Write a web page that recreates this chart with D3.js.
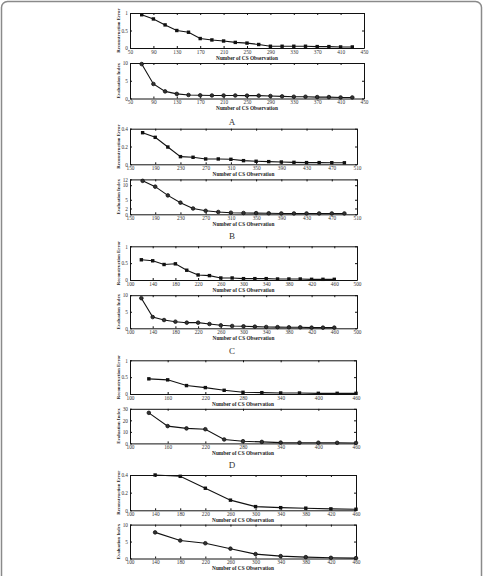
<!DOCTYPE html>
<html lang="en">
<head>
<meta charset="utf-8">
<title>CS Observation</title>
<script src="https://d3js.org/d3.v7.min.js"></script>
<style>
  body { margin: 0; background: #fff; }
  svg text { font-family: "Liberation Serif", "DejaVu Serif", serif; }
</style>
</head>
<body>
<svg width="484" height="576"></svg>
<script>
// ---- data ----
var xA = [70, 90, 110, 130, 150, 170, 190, 210, 230, 250, 270, 290, 310, 330, 350, 370, 390, 410, 430];
var errA = [0.95, 0.83, 0.66, 0.50, 0.45, 0.27, 0.23, 0.20, 0.16, 0.14, 0.10, 0.05, 0.05, 0.05, 0.05, 0.04, 0.04, 0.03, 0.03];
var idxA = [9.7, 4.1, 2.0, 1.3, 1.0, 0.9, 0.85, 0.85, 0.85, 0.8, 0.8, 0.7, 0.6, 0.5, 0.5, 0.4, 0.4, 0.3, 0.3];
var xTicksA = [50, 90, 130, 170, 210, 250, 290, 330, 370, 410, 450];
var errTicksA = [0, 0.5, 1];
var idxTicksA = [0, 5, 10];

var xB = [170, 190, 210, 230, 250, 270, 290, 310, 330, 350, 370, 390, 410, 430, 450, 470, 490];
var errB = [0.355, 0.303, 0.194, 0.086, 0.079, 0.06, 0.06, 0.056, 0.041, 0.034, 0.03, 0.026, 0.022, 0.019, 0.019, 0.018, 0.017];
var idxB = [11.5, 9.5, 6.5, 4.0, 2.0, 1.2, 0.8, 0.55, 0.45, 0.4, 0.35, 0.3, 0.3, 0.3, 0.3, 0.3, 0.3];
var xTicksB = [150, 190, 230, 270, 310, 350, 390, 430, 470, 510];
var errTicksB = [0, 0.2, 0.4];
var idxTicksB = [0, 2, 5, 10, 12];

var xC = [120, 140, 160, 180, 200, 220, 240, 260, 280, 300, 320, 340, 360, 380, 400, 420, 440, 460];
var errC = [0.60, 0.57, 0.46, 0.48, 0.29, 0.15, 0.13, 0.06, 0.06, 0.04, 0.04, 0.04, 0.03, 0.03, 0.03, 0.02, 0.02, 0.02];
var idxC = [9.1, 3.4, 2.5, 2.0, 1.7, 1.7, 1.3, 0.9, 0.7, 0.6, 0.5, 0.4, 0.35, 0.3, 0.3, 0.2, 0.2, 0.2];
var xTicksC = [100, 140, 180, 220, 260, 300, 340, 380, 420, 460, 500];
var errTicksC = [0, 0.5, 1];
var idxTicksC = [0, 5, 10];

var xD = [130, 160, 190, 220, 250, 280, 310, 340, 370, 400, 430, 460];
var errD = [0.45, 0.42, 0.25, 0.19, 0.11, 0.05, 0.04, 0.03, 0.03, 0.02, 0.02, 0.02];
var idxD = [26.5, 15, 13, 12.3, 3.4, 1.9, 1.3, 0.7, 0.6, 0.6, 0.5, 0.4];
var xTicksD = [100, 160, 220, 280, 340, 400, 460];
var errTicksD = [0, 0.5, 1];
var idxTicksD = [0, 10, 20, 30];

var xE = [140, 180, 220, 260, 300, 340, 380, 420, 460];
var errE = [0.40, 0.385, 0.25, 0.115, 0.042, 0.03, 0.024, 0.016, 0.012];
var idxE = [7.7, 5.3, 4.5, 2.9, 1.3, 0.7, 0.4, 0.2, 0.1];
var xTicksE = [100, 140, 180, 220, 260, 300, 340, 380, 420, 460];
var errTicksE = [0, 0.2, 0.4];
var idxTicksE = [0, 5, 10];

var panelLabels = ["A", "B", "C", "D", ""];

// ---- layout ----
var svg = d3.select("svg");

// outer frame of the figure
svg.append("rect")
    .attr("x", 1.5).attr("y", 1.5)
    .attr("width", 480).attr("height", 600)
    .attr("rx", 6)
    .attr("fill", "none")
    .attr("stroke", "#8a8a8a")
    .attr("stroke-width", 1.5);

var panels = [
    {xs: xA, err: errA, idx: idxA, xt: xTicksA, et: errTicksA, it: idxTicksA, right: 364, top: [13, 48], bot: [63, 98.5], lab: 125},
    {xs: xB, err: errB, idx: idxB, xt: xTicksB, et: errTicksB, it: idxTicksB, right: 357, top: [128.7, 164.3], bot: [179.4, 214.3], lab: 239},
    {xs: xC, err: errC, idx: idxC, xt: xTicksC, et: errTicksC, it: idxTicksC, right: 357, top: [246.3, 280], bot: [295.2, 328.3], lab: 354},
    {xs: xD, err: errD, idx: idxD, xt: xTicksD, et: errTicksD, it: idxTicksD, right: 356, top: [360.3, 394], bot: [408.8, 443.4], lab: 468},
    {xs: xE, err: errE, idx: idxE, xt: xTicksE, et: errTicksE, it: idxTicksE, right: 356, top: [475, 510.3], bot: [524.6, 558.5], lab: 590}
];
var left = 130;

function drawPlot(xs, ys, xTicks, yTicks, x0, x1, y0, y1, ylabel, marker) {
    var x = d3.scaleLinear()
        .domain([xTicks[0], xTicks[xTicks.length - 1]])
        .range([x0, x1]);
    var y = d3.scaleLinear()
        .domain([yTicks[0], yTicks[yTicks.length - 1]])
        .range([y1, y0]);
    var g = svg.append("g");

    // ticks on all four sides, pointing inward (matlab style)
    g.append("g")
        .attr("transform", "translate(0," + y1 + ")")
        .call(d3.axisBottom(x).tickValues(xTicks).tickSize(-2).tickSizeOuter(0).tickPadding(2).tickFormat(function(d){ return d; }));
    g.append("g")
        .attr("transform", "translate(0," + y0 + ")")
        .call(d3.axisTop(x).tickValues(xTicks).tickSize(-2).tickSizeOuter(0).tickFormat(""));
    g.append("g")
        .attr("transform", "translate(" + x0 + ",0)")
        .call(d3.axisLeft(y).tickValues(yTicks).tickSize(-2).tickSizeOuter(0).tickPadding(2).tickFormat(function(d){ return d; }));
    g.append("g")
        .attr("transform", "translate(" + x1 + ",0)")
        .call(d3.axisRight(y).tickValues(yTicks).tickSize(-2).tickSizeOuter(0).tickFormat(""));

    g.selectAll(".domain").attr("stroke", "#111").attr("stroke-width", 1);
    g.selectAll(".tick line").attr("stroke", "#111").attr("stroke-width", 1);
    g.selectAll(".tick text")
        .attr("font-size", 5.3)
        .attr("fill", "#333")
        .attr("font-family", "Liberation Serif");

    // x label
    g.append("text")
        .attr("x", (x0 + x1) / 2)
        .attr("y", y1 + 11.5)
        .attr("text-anchor", "middle")
        .attr("font-size", 5.3)
        .attr("font-weight", "bold")
        .attr("fill", "#222")
        .text("Number of CS Observation");

    // y label
    g.append("text")
        .attr("transform", "translate(" + (x0 - 10) + "," + ((y0 + y1) / 2) + ") rotate(-90)")
        .attr("text-anchor", "middle")
        .attr("font-size", 4.8)
        .attr("font-weight", "bold")
        .attr("fill", "#222")
        .text(ylabel);

    var line = d3.line()
        .x(function(d, i){ return x(xs[i]); })
        .y(function(d){ return y(d); });

    g.append("path")
        .datum(ys)
        .attr("d", line)
        .attr("fill", "none")
        .attr("stroke", "#111")
        .attr("stroke-width", 1.1);

    if (marker == "square") {
        g.selectAll(".m")
            .data(ys)
            .enter()
            .append("rect")
            .attr("x", function(d, i){ return x(xs[i]) - 1.7; })
            .attr("y", function(d){ return y(d) - 1.7; })
            .attr("width", 3.4)
            .attr("height", 3.4)
            .attr("fill", "#111");
    } else {
        g.selectAll(".m")
            .data(ys)
            .enter()
            .append("circle")
            .attr("cx", function(d, i){ return x(xs[i]); })
            .attr("cy", function(d){ return y(d); })
            .attr("r", 1.8)
            .attr("fill", "#333")
            .attr("stroke", "#111")
            .attr("stroke-width", 0.8);
    }
}

panels.forEach(function(p, k) {
    drawPlot(p.xs, p.err, p.xt, p.et, left, p.right, p.top[0], p.top[1], "Reconstruction Error", "square");
    drawPlot(p.xs, p.idx, p.xt, p.it, left, p.right, p.bot[0], p.bot[1], "Evaluation Index", "circle");
    if (panelLabels[k]) {
        svg.append("text")
            .attr("x", 232)
            .attr("y", p.lab)
            .attr("text-anchor", "middle")
            .attr("font-size", 9)
            .attr("fill", "#333")
            .text(panelLabels[k]);
    }
});
</script>
</body>
</html>
